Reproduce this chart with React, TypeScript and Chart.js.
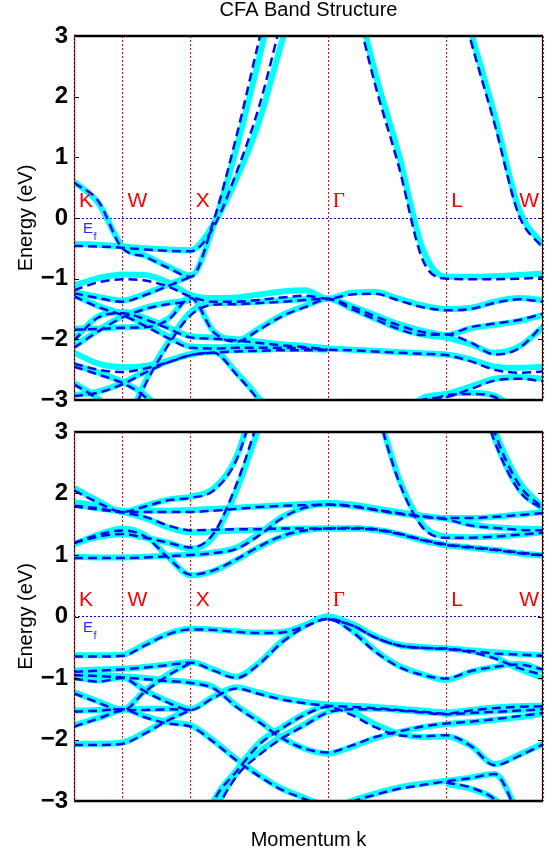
import React, { useEffect, useRef } from 'react';
import { Chart, registerables } from 'chart.js';

Chart.register(...registerables);
Chart.defaults.font.family = '"Liberation Sans", Arial, sans-serif';

const _ = null;
const gap = (n: number) => Array(n).fill(null);

// high-symmetry points (units of 2π/a) and labels
const kTicks = [0, 0.3536, 0.8536, 1.8536, 2.7196, 3.4267];
const kLabels = ['K', 'W', 'X', 'Γ', 'L', 'W'];
// sampling grid along the path
const kGrid = [0, 0.177, 0.3536, 0.520, 0.687, 0.8536, 1.020, 1.187, 1.354, 1.520, 1.687, 1.8536,
  2.027, 2.200, 2.373, 2.546, 2.7196, 2.896, 3.073, 3.250, 3.4267];
const yMin = -3;
const yMax = 3;

// ---------- top panel (cyan = one spin, blue dashed = other) ----------
const tC1 = [0.60, 0.25, -0.47, -0.62, -0.80, -0.95, -0.12, 1.15, 2.65, 4.2, ...gap(11)];
const tB1 = [0.58, 0.28, -0.50, -0.64, -0.82, -0.97, -0.05, 1.35, 2.95, 4.5, ...gap(11)];
const tC2 = [-0.43, -0.44, -0.47, -0.50, -0.52, -0.53, -0.10, 0.65, 1.60, 2.92, 4.2, ...gap(10)];
const tB2 = [-0.46, -0.47, -0.49, -0.52, -0.54, -0.55, -0.15, 0.75, 1.85, 3.3, ...gap(11)];
const tC3 = [...gap(12), 4.0, 2.4, 1.05, -0.50, -0.97, -0.97, -0.96, -0.94, -0.92];
const tB3 = [...gap(12), 3.8, 2.2, 0.85, -0.68, -1.00, -1.01, -1.01, -1.00, -0.98];
const tC4 = [...gap(16), 4.6, 3.1, 1.7, 0.15, -0.45];
const tB4 = [...gap(16), 4.5, 2.95, 1.55, 0.05, -0.50];
const tC5 = [-1.11, -0.99, -0.93, -0.94, -1.06, -1.27, -1.32, -1.31, -1.26, -1.21, -1.19, -1.33, -1.23, -1.22, -1.33, -1.44, -1.50, -1.48, -1.38, -1.32, -1.35];
const tB5 = [-1.19, -1.06, -1.01, -1.03, -1.13, -1.30, -1.38, -1.38, -1.35, -1.31, -1.28, -1.33, -1.26, -1.25, -1.36, -1.47, -1.52, -1.50, -1.40, -1.34, -1.38];
const tC6 = [-1.22, -1.30, -1.36, -1.25, -1.10, -0.95, ...gap(15)];
const tB6 = [-1.24, -1.32, -1.38, -1.27, -1.12, -0.97, ...gap(15)];
const tC7 = [-1.27, -1.45, -1.58, -1.75, -1.95, -2.12, -2.13, -2.12, -2.12, -2.12, -2.13, -2.15, -2.17, -2.19, -2.21, -2.23, -2.25, -2.33, -2.45, -2.47, -2.45];
const tB7 = [-1.29, -1.47, -1.60, -1.78, -1.98, -2.14, -2.15, -2.14, -2.14, -2.14, -2.15, -2.17, -2.18, -2.20, -2.22, -2.24, -2.26, -2.36, -2.50, -2.55, -2.53];
const tC8 = [-1.82, -1.82, -1.80, -1.79, -1.66, -1.30, -1.87, -2.02, -1.82, -1.60, -1.45, -1.33, -1.49, -1.66, -1.82, -1.92, -1.97, -2.08, -2.22, -2.12, -1.80];
const tB8 = [-1.84, -1.83, -1.81, -1.80, -1.68, -1.32, -1.88, -2.04, -1.84, -1.62, -1.47, -1.34, -1.50, -1.67, -1.83, -1.93, -1.92, -2.05, -2.25, -2.15, -1.76];
const tC9 = [_, _, -3.6, -2.70, -2.05, -1.55, -1.40, -1.40, -1.38, -1.36, -1.34, -1.33, -1.45, -1.60, -1.75, -1.86, -1.93, -1.82, -1.76, -1.70, -1.60];
const tB9 = [_, _, -3.65, -2.75, -2.10, -1.60, -1.43, -1.42, -1.40, -1.38, -1.35, -1.33, -1.46, -1.62, -1.77, -1.88, -1.92, -1.80, -1.74, -1.68, -1.58];
const tC10 = [-2.00, -1.62, -1.55, -1.65, -1.80, -1.95, -1.97, -2.00, -2.04, -2.08, -2.11, -2.15, ...gap(9)];
const tB10 = [-2.02, -1.64, -1.57, -1.67, -1.82, -1.97, -1.99, -2.02, -2.06, -2.10, -2.13, -2.17, ...gap(9)];
const tC11 = [-2.12, -1.85, -1.62, -1.48, -1.40, -1.36, ...gap(15)];
const tB11 = [-2.14, -1.87, -1.64, -1.50, -1.42, -1.38, ...gap(15)];
const tC12 = [-2.22, -2.40, -2.46, -2.44, -2.35, -2.25, -2.20, -2.55, -2.98, -3.5, ...gap(11)];
const tB12 = [-2.40, -2.50, -2.54, -2.48, -2.38, -2.26, -2.22, -2.58, -3.02, -3.55, ...gap(11)];
const tC13 = [-2.42, -2.55, -2.70, -2.92, -3.3, ...gap(16)];
const tB13 = [-2.45, -2.58, -2.72, -2.95, -3.35, ...gap(16)];
const tC14 = [-2.72, -2.98, -3.4, ...gap(18)];
const tB14 = [-2.74, -3.0, -3.45, ...gap(18)];
const tC15 = [-2.92, -2.86, -2.72, -2.53, -2.36, -2.24, -2.20, -2.18, -2.17, -2.16, -2.16, -2.17, ...gap(9)];
const tB15 = [-2.94, -2.88, -2.74, -2.55, -2.38, -2.26, -2.22, -2.20, -2.19, -2.18, -2.18, -2.18, ...gap(9)];
const tC16 = [...gap(14), -3.3, -2.97, -2.90, -2.78, -2.65, -2.62, -2.65];
const tB16 = [...gap(14), -3.35, -3.0, -2.95, -2.82, -2.68, -2.65, -2.69];
const tC17 = [...gap(15), -3.1, -2.90, -2.88, -2.93, -3.2, _];
const tB17 = [...gap(15), -3.1, -2.92, -2.90, -2.95, -3.2, _];

const topCyan = [tC1, tC2, tC3, tC4, tC5, tC6, tC7, tC8, tC9, tC10, tC11, tC12, tC13, tC14, tC15, tC16, tC17];
const topBlue = [tB1, tB2, tB3, tB4, tB5, tB6, tB7, tB8, tB9, tB10, tB11, tB12, tB13, tB14, tB15, tB16, tB17];

// ---------- bottom panel ----------
const bC1 = [2.09, 1.88, 1.70, 1.80, 1.90, 1.95, 2.08, 2.60, 3.8, ...gap(12)];
const bB1 = [2.05, 1.85, 1.70, 1.79, 1.89, 1.93, 2.05, 2.55, 3.7, ...gap(12)];
const bC2 = [1.86, 1.80, 1.72, 1.72, 1.72, 1.73, 1.75, 1.77, 1.79, 1.81, 1.83, 1.85, 1.82, 1.76, 1.70, 1.64, 1.60, 1.60, 1.62, 1.66, 1.70];
const bB2 = [1.80, 1.76, 1.70, 1.70, 1.70, 1.70, 1.72, 1.75, 1.78, 1.80, 1.81, 1.82, 1.80, 1.74, 1.68, 1.63, 1.60, 1.60, 1.62, 1.65, 1.68];
const bC3 = [1.82, 1.76, 1.70, 1.60, 1.45, 1.37, 1.38, 1.40, 1.41, 1.42, 1.43, 1.43, 1.43, 1.41, 1.34, 1.24, 1.16, 1.12, 1.08, 1.03, 0.99];
const bB3 = [1.79, 1.74, 1.69, 1.62, 1.48, 1.40, 1.41, 1.42, 1.42, 1.43, 1.43, 1.43, 1.43, 1.41, 1.34, 1.24, 1.16, 1.12, 1.08, 1.03, 0.99];
const bC4 = [1.17, 1.33, 1.43, 1.32, 0.97, 0.67, 0.74, 0.92, 1.13, 1.30, 1.40, 1.43, 1.43, 1.41, 1.34, 1.24, 1.16, 1.12, 1.08, 1.03, 0.99];
const bB4 = [1.19, 1.33, 1.40, 1.30, 0.96, 0.68, 0.75, 0.93, 1.14, 1.31, 1.40, 1.43, 1.44, 1.42, 1.35, 1.25, 1.17, 1.13, 1.09, 1.04, 1.00];
const bC5 = [1.19, 1.29, 1.34, 1.28, 1.20, 1.10, 1.30, 2.05, 3.1, 4.2, ...gap(11)];
const bB5 = [1.20, 1.30, 1.34, 1.28, 1.20, 1.12, 1.35, 2.15, 3.25, 4.4, ...gap(11)];
const bC6 = [0.97, 0.96, 0.96, 0.97, 0.99, 1.01, 1.04, 1.12, 1.35, 1.62, 1.78, 1.83, 1.80, 1.74, 1.68, 1.63, 1.59, 1.50, 1.45, 1.43, 1.42];
const bB6 = [0.95, 0.95, 0.95, 0.96, 0.98, 1.00, 1.03, 1.10, 1.32, 1.60, 1.77, 1.82, 1.79, 1.73, 1.67, 1.62, 1.58, 1.48, 1.44, 1.41, 1.40];
const bC7 = [...gap(13), 3.5, 2.25, 1.50, 1.30, 1.29, 1.30, 1.33, 1.37];
const bB7 = [...gap(13), 3.45, 2.20, 1.45, 1.28, 1.28, 1.30, 1.33, 1.36];
const bC8 = [...gap(17), 4.2, 2.9, 2.08, 1.75];
const bB8 = [...gap(17), 4.1, 2.85, 2.05, 1.74];
const bC9 = [...gap(17), 4.5, 3.05, 2.2, 1.78];
const bB9 = [...gap(17), 4.4, 3.0, 2.15, 1.76];
const bC10 = [-0.63, -0.63, -0.62, -0.45, -0.28, -0.20, -0.21, -0.24, -0.26, -0.25, -0.14, 0.0, -0.12, -0.32, -0.46, -0.50, -0.52, -0.55, -0.58, -0.61, -0.63];
const bB10 = [-0.65, -0.65, -0.64, -0.47, -0.29, -0.21, -0.22, -0.25, -0.27, -0.26, -0.16, -0.04, -0.14, -0.34, -0.47, -0.51, -0.52, -0.56, -0.60, -0.62, -0.64];
const bC11 = [-0.88, -0.86, -0.85, -0.82, -0.78, -0.74, -0.86, -0.98, -0.75, -0.40, -0.15, 0.0, -0.22, -0.55, -0.80, -0.94, -1.03, -0.90, -0.82, -0.77, -0.88];
const bB11 = [-0.90, -0.88, -0.86, -0.83, -0.79, -0.75, -0.88, -1.00, -0.77, -0.42, -0.17, -0.04, -0.24, -0.57, -0.82, -0.95, -1.01, -0.89, -0.82, -0.78, -0.86];
const bC12 = [...gap(11), 0.0, -0.12, -0.32, -0.46, -0.50, -0.52, -0.56, -0.66, -0.85, -1.0];
const bB12 = [...gap(11), -0.04, -0.14, -0.34, -0.47, -0.51, -0.53, -0.58, -0.68, -0.84, -0.95];
const bC13 = [-0.93, -0.95, -0.97, -1.00, -1.04, -1.07, -1.15, -1.45, -1.70, -1.97, -2.15, -2.23, -2.12, -1.98, -1.88, -1.80, -1.75, -1.72, -1.68, -1.64, -1.58];
const bB13 = [-0.95, -0.97, -0.99, -1.02, -1.05, -1.08, -1.17, -1.47, -1.72, -1.98, -2.15, -2.21, -2.10, -1.96, -1.87, -1.79, -1.74, -1.71, -1.67, -1.62, -1.57];
const bC14 = [-0.99, -1.04, -0.99, -1.20, -1.38, -1.50, -1.30, -1.15, -1.24, -1.33, -1.39, -1.43, -1.45, -1.47, -1.50, -1.53, -1.56, -1.52, -1.48, -1.46, -1.45];
const bB14 = [-1.01, -1.06, -1.00, -1.22, -1.40, -1.52, -1.32, -1.17, -1.26, -1.35, -1.41, -1.45, -1.47, -1.49, -1.52, -1.55, -1.58, -1.53, -1.49, -1.47, -1.46];
const bC15 = [-1.23, -1.38, -1.51, -1.20, -0.94, -0.74, ...gap(15)];
const bB15 = [-1.25, -1.40, -1.53, -1.22, -0.96, -0.75, ...gap(15)];
const bC16 = [-1.53, -1.52, -1.50, -1.62, -1.72, -1.77, -2.02, -2.32, -2.58, -2.80, -2.95, -3.1, ...gap(9)];
const bB16 = [-1.55, -1.53, -1.51, -1.64, -1.74, -1.79, -2.04, -2.34, -2.60, -2.82, -2.97, -3.12, ...gap(9)];
const bC17 = [-1.77, -1.65, -1.52, -1.50, -1.50, -1.50, ...gap(15)];
const bB17 = [-1.79, -1.66, -1.53, -1.52, -1.51, -1.52, ...gap(15)];
const bC18 = [-2.07, -2.07, -2.05, -1.88, -1.67, -1.50, ...gap(15)];
const bB18 = [-2.09, -2.09, -2.07, -1.90, -1.69, -1.52, ...gap(15)];
const bC19 = [...gap(5), -4.0, -3.0, -2.50, -2.05, -1.80, -1.58, -1.45, -1.55, -1.75, -1.90, -1.96, -1.95, -2.10, -2.40, -2.25, -2.07];
const bB19 = [...gap(5), -4.0, -3.0, -2.52, -2.08, -1.82, -1.60, -1.47, -1.60, -1.80, -1.93, -1.95, -1.93, -2.10, -2.42, -2.27, -2.08];
const bC20 = [...gap(5), -4.2, -3.2, -2.55, -2.20, -1.95, -1.75, -1.55, -1.50, -1.50, -1.52, -1.55, -1.58, -1.56, -1.54, -1.52, -1.50];
const bB20 = [...gap(5), -4.2, -3.25, -2.60, -2.25, -1.98, -1.77, -1.56, -1.51, -1.51, -1.53, -1.56, -1.59, -1.57, -1.55, -1.53, -1.51];
const bC21 = [...gap(11), -3.2, -3.0, -2.88, -2.78, -2.72, -2.67, -2.62, -2.56, -3.2, _];
const bB21 = [...gap(11), -3.25, -3.02, -2.90, -2.80, -2.74, -2.68, -2.63, -2.56, -3.25, _];
const bC22 = [...gap(16), -2.72, -2.80, -2.97, -3.4, _];
const bB22 = [...gap(16), -2.70, -2.78, -2.97, -3.4, _];

const botCyan = [bC1, bC2, bC3, bC4, bC5, bC6, bC7, bC8, bC9, bC10, bC11, bC12, bC13, bC14, bC15, bC16, bC17, bC18, bC19, bC20, bC21, bC22];
const botBlue = [bB1, bB2, bB3, bB4, bB5, bB6, bB7, bB8, bB9, bB10, bB11, bB12, bB13, bB14, bB15, bB16, bB17, bB18, bB19, bB20, bB21, bB22];

const CYAN = '#00ffff';
const BLUE = 'rgb(8,8,235)';
const RED = '#ff0000';

// snap a 1px guide line onto an even pixel column/row (keeps thin coloured dots crisp)
const snapEven = (v: number) => {
  let p = Math.round(v);
  if (p % 2 !== 0) p -= 1;
  return p + 0.5;
};

function makeDatasets(cyan: (number | null)[][], blue: (number | null)[][]) {
  const ds: any[] = [];
  cyan.forEach((band, i) => {
    ds.push({
      label: 'cyan' + i,
      data: kGrid.map((k, j) => ({ x: k, y: band[j] })),
      borderColor: CYAN,
      borderWidth: 6,
      pointRadius: 0,
      cubicInterpolationMode: 'monotone',
      clip: 0,
      order: 2,
      fill: false,
      spanGaps: false,
    });
  });
  blue.forEach((band, i) => {
    ds.push({
      label: 'blue' + i,
      data: kGrid.map((k, j) => ({ x: k, y: band[j] })),
      borderColor: BLUE,
      borderWidth: 2.5,
      borderDash: [9, 5],
      pointRadius: 0,
      cubicInterpolationMode: 'monotone',
      clip: 0,
      order: 1,
      fill: false,
      spanGaps: false,
    });
  });
  return ds;
}

function overlayPlugin(showTitle: boolean) {
  return {
    id: 'overlay',
    beforeDatasetsDraw(chart: any) {
      const { ctx, chartArea: a, scales } = chart;
      const x = scales.x, y = scales.y;
      ctx.save();
      ctx.lineWidth = 1;
      ctx.setLineDash([2, 2]);
      ctx.strokeStyle = RED;
      kTicks.forEach((k) => {
        const px = snapEven(x.getPixelForValue(k));
        ctx.beginPath();
        ctx.moveTo(px, a.top);
        ctx.lineTo(px, a.bottom);
        ctx.stroke();
      });
      const py = snapEven(y.getPixelForValue(0));
      ctx.strokeStyle = '#0000ff';
      ctx.beginPath();
      ctx.moveTo(a.left, py);
      ctx.lineTo(a.right, py);
      ctx.stroke();
      ctx.restore();
    },
    afterDatasetsDraw(chart: any) {
      const { ctx, chartArea: a, scales } = chart;
      const x = scales.x, y = scales.y;
      ctx.save();
      // frame
      ctx.setLineDash([]);
      ctx.strokeStyle = '#000';
      ctx.lineWidth = 1.2;
      ctx.beginPath();
      ctx.moveTo(a.left + 0.5, a.top);
      ctx.lineTo(a.left + 0.5, a.bottom);
      ctx.moveTo(a.right - 0.5, a.top);
      ctx.lineTo(a.right - 0.5, a.bottom);
      ctx.stroke();
      ctx.lineWidth = 2.5;
      ctx.beginPath();
      ctx.moveTo(a.left, a.top);
      ctx.lineTo(a.right, a.top);
      ctx.moveTo(a.left, a.bottom);
      ctx.lineTo(a.right, a.bottom);
      ctx.stroke();
      // ticks
      ctx.lineWidth = 1;
      for (let v = yMin; v <= yMax; v++) {
        const py = Math.round(y.getPixelForValue(v)) + 0.5;
        ctx.beginPath();
        ctx.moveTo(a.left, py);
        ctx.lineTo(a.left + 5, py);
        ctx.moveTo(a.right, py);
        ctx.lineTo(a.right - 5, py);
        ctx.stroke();
      }
      // red dotted over the side borders
      ctx.setLineDash([2, 2]);
      ctx.strokeStyle = RED;
      [kTicks[0], kTicks[kTicks.length - 1]].forEach((k) => {
        const px = Math.round(x.getPixelForValue(k)) + 0.5;
        ctx.beginPath();
        ctx.moveTo(px, a.top);
        ctx.lineTo(px, a.bottom);
        ctx.stroke();
      });
      ctx.setLineDash([]);
      // point labels
      const zy = y.getPixelForValue(0);
      ctx.fillStyle = RED;
      ctx.textBaseline = 'alphabetic';
      kLabels.forEach((lab, i) => {
        const px = x.getPixelForValue(kTicks[i]);
        if (lab === 'Γ') {
          ctx.font = '21px "Liberation Serif", "DejaVu Serif", serif';
        } else {
          ctx.font = '21px "Liberation Sans", Arial, sans-serif';
        }
        if (i === kLabels.length - 1) {
          ctx.textAlign = 'right';
          ctx.fillText(lab, px - 4, zy - 11);
        } else {
          ctx.textAlign = 'left';
          ctx.fillText(lab, px + 5, zy - 11);
        }
      });
      // Fermi level label
      ctx.fillStyle = '#2a2aff';
      ctx.textAlign = 'left';
      ctx.font = '15px "Liberation Sans", Arial, sans-serif';
      const ex = a.left + 9;
      ctx.fillText('E', ex, zy + 15);
      const ew = ctx.measureText('E').width;
      ctx.font = '11px "Liberation Sans", Arial, sans-serif';
      ctx.fillText('f', ex + ew + 0.5, zy + 22);
      ctx.restore();
    },
    afterDraw(chart: any) {
      if (!showTitle) return;
      const { ctx, chartArea: a } = chart;
      ctx.save();
      ctx.fillStyle = '#000';
      ctx.font = '20px "Liberation Sans", Arial, sans-serif';
      ctx.textAlign = 'center';
      ctx.textBaseline = 'alphabetic';
      ctx.fillText('CFA Band Structure', (a.left + a.right) / 2, 15.5);
      ctx.restore();
    },
  };
}

function buildConfig(cyan: (number | null)[][], blue: (number | null)[][], padTop: number, padBottom: number, xTitle: boolean, title: boolean): any {
  return {
    type: 'line',
    data: { datasets: makeDatasets(cyan, blue) },
    options: {
      responsive: false,
      maintainAspectRatio: false,
      animation: false,
      events: [],
      layout: { padding: { left: 0, right: 13, top: padTop, bottom: padBottom } },
      plugins: { legend: { display: false }, tooltip: { enabled: false }, title: { display: false } },
      scales: {
        x: {
          type: 'linear',
          min: kTicks[0],
          max: kTicks[kTicks.length - 1],
          display: xTitle,
          ticks: { display: false },
          grid: { display: false, drawTicks: false },
          border: { display: false },
          title: {
            display: xTitle,
            text: 'Momentum k',
            color: '#000',
            font: { size: 20 },
            padding: { top: 0, bottom: 2 },
          },
          afterFit: (s: any) => {
            s.height = xTitle ? 53 : 0;
            s.paddingLeft = 0;
            s.paddingRight = 0;
          },
        },
        y: {
          type: 'linear',
          min: yMin,
          max: yMax,
          ticks: {
            stepSize: 1,
            padding: 6,
            color: '#000',
            font: { size: 24, weight: 'bold' },
            callback: (v: any) => (Number(v) < 0 ? '\u2212' + Math.abs(Number(v)) : String(v)),
          },
          grid: { display: false, drawTicks: false },
          border: { display: false },
          title: {
            display: true,
            text: 'Energy (eV)',
            color: '#000',
            font: { size: 20 },
            padding: { top: 14, bottom: 0 },
          },
          afterFit: (s: any) => {
            s.width = 74;
            s.paddingTop = 0;
            s.paddingBottom = 0;
          },
        },
      },
    },
    plugins: [overlayPlugin(title)],
  };
}

export default function App() {
  const topRef = useRef<HTMLCanvasElement>(null);
  const botRef = useRef<HTMLCanvasElement>(null);

  useEffect(() => {
    const c1 = new Chart(topRef.current as HTMLCanvasElement, buildConfig(topCyan, topBlue, 36, 18, false, true));
    const c2 = new Chart(botRef.current as HTMLCanvasElement, buildConfig(botCyan, botBlue, 14, 0, true, false));
    return () => {
      c1.destroy();
      c2.destroy();
    };
  }, []);

  return (
    <div style={{ position: 'absolute', left: 0, top: 0, width: 556, height: 854, background: '#fff', overflow: 'hidden' }}>
      <canvas ref={topRef} width={556} height={418} style={{ position: 'absolute', left: 0, top: 0, width: 556, height: 418 }} />
      <canvas ref={botRef} width={556} height={436} style={{ position: 'absolute', left: 0, top: 418, width: 556, height: 436 }} />
    </div>
  );
}
